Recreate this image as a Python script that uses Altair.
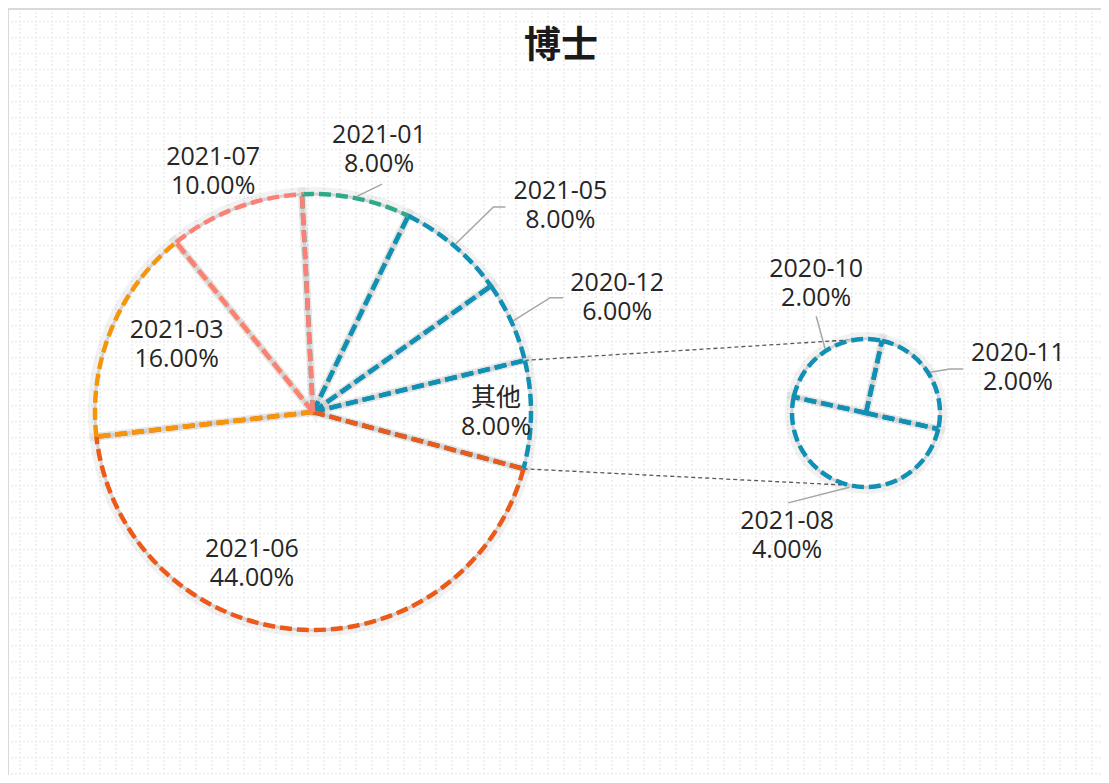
import math
import altair as alt
import pandas as pd

# ---------------- data ----------------
title_text = "博士"
main_cats = ["2021-01", "2021-05", "2020-12", "其他", "2021-06", "2021-03", "2021-07"]
main_vals = [8, 8, 6, 8, 44, 16, 10]
main_colors = ["#2eaa8a", "#1190b4", "#1190b4", "#1190b4", "#ec5a1a", "#f5960a", "#fb8078"]
sec_cats = ["2020-10", "2020-11", "2021-08"]
sec_vals = [2, 2, 4]
sec_colors = ["#1190b4", "#1190b4", "#1190b4"]

# ---------------- layout ----------------
W, H = 1093, 767
OFF = 8
MAIN_C = (313, 412)
MAIN_R = 218
MAIN_START = -2.9
SEC_C = (866, 413)
SEC_R = 74
SEC_START = -77.5
FONT = "Open Sans, Noto Sans CJK SC"
DASH, GAP = 12, 5
STROKE_W = 4.5
LINE_H = 29

# label placement: (angle nudge in degrees, distance from pie centre)
main_label_layout = {
    "2021-01": (2.6, 271), "2021-05": (9.9, 322), "2020-12": (3.9, 325),
    "其他": (-0.4, 183), "2021-06": (17.7, 163), "2021-03": (3.9, 152),
    "2021-07": (-1.7, 260),
}
sec_label_layout = {"2020-10": (11.5, 139), "2020-11": (16.0, 158.5), "2021-08": (20.2, 146)}
# leader lines: offsets from the label centre after the point on the circle
leader_layout = {
    "2021-01": [(3, 35)],
    "2021-05": [(-67, 1), (-55, 1)],
    "2020-12": [(-67, 0), (-54, 0)],
    "2020-10": [(0, 33)],
    "2020-11": [(-68, 1), (-55, 1)],
    "2021-08": [(1, -33)],
}
SEC_CONNECT = (-5, 192)


def polar(c, r, deg):
    a = math.radians(deg)
    return c[0] + r * math.sin(a) - OFF, c[1] - r * math.cos(a) - OFF


def angles(vals, start):
    tot = sum(vals)
    out, cum = [], 0
    for v in vals:
        a0 = start + cum / tot * 360
        cum += v
        a1 = start + cum / tot * 360
        out.append((a0, a1))
    return out


def outer_dash(r, a0, a1):
    L = r * math.radians(a1 - a0)
    arr, pos = [], 0.0
    while pos < L - 0.5:
        arr += [round(min(DASH, L - pos), 2), GAP]
        pos += DASH + GAP
    arr[-1] = 100000
    return arr


main_ang = angles(main_vals, MAIN_START)
sec_ang = angles(sec_vals, SEC_START)


def pie_df(cats, vals, cols):
    v1 = pd.Series(vals).cumsum()
    return pd.DataFrame({"cat": cats, "v": vals, "col": cols,
                         "v0": (v1 - pd.Series(vals)).tolist(), "v1": v1.tolist()})


main_df = pie_df(main_cats, main_vals, main_colors)
sec_df = pie_df(sec_cats, sec_vals, sec_colors)


def radial_df(cats, cols, angs, c, r):
    rows = []
    cx, cy = c[0] - OFF, c[1] - OFF
    for k, (cat, col, (a0, a1)) in enumerate(zip(cats, cols, angs)):
        for a in (a0, a1):
            ex, ey = polar(c, r, a)
            rows.append({"k": k, "col": col, "x": cx, "y": cy, "x2": ex, "y2": ey})
    return pd.DataFrame(rows)


# labels
lab_rows = []
leader_rows = []
for cats, vals, angs, lay, c, r in [
    (main_cats, main_vals, main_ang, main_label_layout, MAIN_C, MAIN_R),
    (sec_cats, sec_vals, sec_ang, sec_label_layout, SEC_C, SEC_R),
]:
    for cat, v, (a0, a1) in zip(cats, vals, angs):
        mid = (a0 + a1) / 2
        nud, dist = lay[cat]
        lx, ly = polar(c, dist, mid + nud)
        lab_rows.append({"x": lx, "y": ly, "t": f"{cat}\n{v:.2f}%"})
        if cat in leader_layout:
            px, py = polar(c, r + 2, mid)
            pts = [(px, py)] + [(lx + dx, ly + dy) for dx, dy in leader_layout[cat]]
            for k, (qx, qy) in enumerate(pts):
                leader_rows.append({"lid": cat, "o": k, "x": qx, "y": qy})
lab_df = pd.DataFrame(lab_rows)
leader_df = pd.DataFrame(leader_rows)

# connectors between "其他" and the secondary pie
oi = main_cats.index("其他")
conn_rows = []
for ma, sa in zip(main_ang[oi], SEC_CONNECT):
    x1, y1 = polar(MAIN_C, MAIN_R, ma)
    x2, y2 = polar(SEC_C, SEC_R, sa)
    conn_rows.append({"x": x1, "y": y1, "x2": x2, "y2": y2})
conn_df = pd.DataFrame(conn_rows)

xs = alt.Scale(domain=[0, W], nice=False, zero=False)
ys = alt.Scale(domain=[0, H], nice=False, zero=False, reverse=True)

# dotted background grid
grid_x = pd.DataFrame({"gx": [12 + 16 * k for k in range(0, (W - 12) // 16 + 1)]})
grid_y = pd.DataFrame({"gy": [13.7 + 16 * k for k in range(0, int((H - 13.7) // 16) + 1)]})
gv = alt.Chart(grid_x).mark_rule(color="#efefef", strokeWidth=2, strokeDash=[2, 2]).encode(
    x=alt.X("gx:Q", scale=xs, axis=None))
gh = alt.Chart(grid_y).mark_rule(color="#efefef", strokeWidth=2, strokeDash=[2, 2]).encode(
    y=alt.Y("gy:Q", scale=ys, axis=None))

one = pd.DataFrame({"a": [0]})
border_left = alt.Chart(one).mark_rule(color="#d9d9d9", strokeWidth=2).encode(
    x=alt.value(0), y=alt.value(0), y2=alt.value(H))
border_top = alt.Chart(one).mark_rule(color="#d9d9d9", strokeWidth=2).encode(
    x=alt.value(0), x2=alt.value(W), y=alt.value(1))

title = alt.Chart(pd.DataFrame({"t": [title_text]})).mark_text(
    font="Noto Sans CJK SC", fontSize=37, fontWeight="bold", color="#1a1a1a",
    align="center", baseline="middle").encode(
    text="t:N", x=alt.value(561 - OFF), y=alt.value(47 - OFF))

conn = alt.Chart(conn_df).mark_rule(color="#595959", strokeWidth=1.3, strokeDash=[4, 3]).encode(
    x=alt.X("x:Q", scale=xs, axis=None), y=alt.Y("y:Q", scale=ys, axis=None),
    x2="x2:Q", y2="y2:Q")


def pie_layers(df, angs, c, r, start):
    a0 = math.radians(start % 360)
    tot = float(df["v"].sum())
    sc = alt.Scale(domain=[0, tot], range=[a0, a0 + 2 * math.pi], zero=False, nice=False)
    th = alt.Theta("v0:Q", scale=sc)
    th2 = alt.Theta2("v1:Q")
    pos = dict(x=alt.value(c[0] - OFF), y=alt.value(c[1] - OFF))
    layers = [
        alt.Chart(df).mark_arc(outerRadius=r + 3, fillOpacity=0, stroke="#000000",
                               strokeOpacity=0.05, strokeWidth=8).encode(theta=th, theta2=th2, **pos),
        alt.Chart(df).mark_arc(outerRadius=r, fillOpacity=0, stroke="#cfcfcf",
                               strokeOpacity=0.9, strokeWidth=3).encode(theta=th, theta2=th2, **pos),
    ]
    rdf = radial_df(list(df["cat"]), list(df["col"]), angs, c, r)
    layers.append(alt.Chart(rdf).mark_rule(strokeWidth=STROKE_W, strokeDash=[DASH, GAP]).encode(
        x=alt.X("x:Q", scale=xs, axis=None), y=alt.Y("y:Q", scale=ys, axis=None),
        x2="x2:Q", y2="y2:Q", color=alt.Color("col:N", scale=None), order="k:Q"))
    for i in range(len(df)):
        row = df.iloc[[i]]
        aa0, aa1 = angs[i]
        layers.append(
            alt.Chart(row).mark_arc(outerRadius=r, fillOpacity=0, strokeWidth=STROKE_W,
                                    stroke=row["col"].iloc[0],
                                    strokeDash=outer_dash(r, aa0, aa1)).encode(
                theta=th, theta2=th2, **pos))
    return layers


main_layers = pie_layers(main_df, main_ang, MAIN_C, MAIN_R, MAIN_START)
sec_layers = pie_layers(sec_df, sec_ang, SEC_C, SEC_R, SEC_START)

leaders = alt.Chart(leader_df).mark_line(color="#a6a6a6", strokeWidth=1.5).encode(
    x=alt.X("x:Q", scale=xs, axis=None), y=alt.Y("y:Q", scale=ys, axis=None),
    detail="lid:N", order="o:Q")

labels = alt.Chart(lab_df).mark_text(font=FONT, fontSize=25, color="#262626", lineBreak="\n",
                                     lineHeight=LINE_H, align="center", baseline="middle",
                                     dy=-LINE_H / 2).encode(
    x=alt.X("x:Q", scale=xs, axis=None), y=alt.Y("y:Q", scale=ys, axis=None), text="t:N")

chart = alt.layer(
    gv, gh, border_left, border_top, conn, *main_layers, *sec_layers, leaders, labels, title
).resolve_scale(theta="independent").properties(
    width=W, height=H, autosize=alt.AutoSizeParams(type="none"), padding=0,
    background="white",
).configure_view(stroke=None)

chart.save("out.html", embed_options={"renderer": "svg", "actions": False})
